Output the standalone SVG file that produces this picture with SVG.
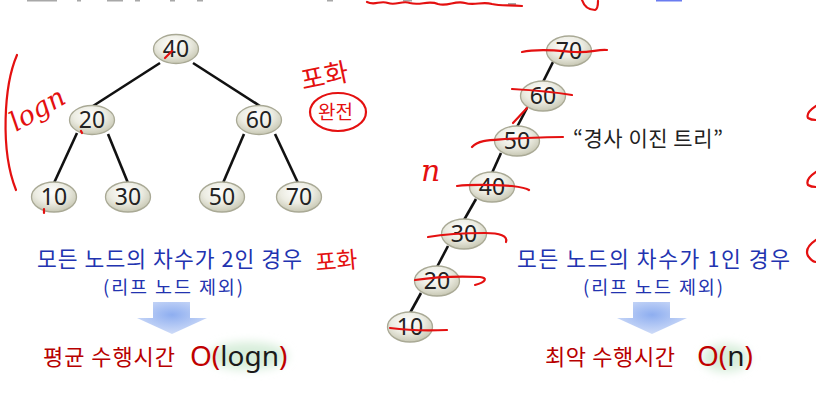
<svg xmlns="http://www.w3.org/2000/svg" width="816" height="410" viewBox="0 0 816 410">
<defs>
<radialGradient id="ng" cx="45%" cy="35%" r="65%">
<stop offset="0" stop-color="#ffffff"/>
<stop offset="0.55" stop-color="#ecece2"/>
<stop offset="1" stop-color="#c8c8b4"/>
</radialGradient>
<radialGradient id="ag" cx="50%" cy="40%" r="60%">
<stop offset="0" stop-color="#8eaef0"/>
<stop offset="1" stop-color="#cfdcf8"/>
</radialGradient>
<filter id="blur" x="-30%" y="-50%" width="160%" height="200%"><feGaussianBlur stdDeviation="5"/></filter>
<style>
.node ellipse{fill:url(#ng);stroke:#a9a995;stroke-width:1.3}
.node text{font-family:"Noto Sans","Noto Sans CJK KR",sans-serif;font-size:23px;fill:#222;text-anchor:middle}
.edge{stroke:#111;stroke-width:2.6;fill:none}
.blue{font-family:"Noto Sans CJK KR",sans-serif;fill:#2233b0}
.red{font-family:"Noto Sans CJK KR",sans-serif;fill:#b80000}
.big{font-family:"Noto Sans","Noto Sans CJK KR",sans-serif;font-size:28px}
.hw{stroke:#e41010;stroke-width:2.2;fill:none;stroke-linecap:round;stroke-linejoin:round}
.hwt{fill:#e41010}
.arrow{fill:url(#ag)}
</style>
</defs>
<rect width="816" height="410" fill="#ffffff"/>

<g id="top-fragments">
<g fill="#a8a8a8">
<rect x="27" y="0" width="30" height="1.5"/>
<rect x="77" y="0" width="4" height="1.5"/>
<rect x="107" y="0" width="16" height="1.5"/>
<rect x="135" y="0" width="5" height="1.5"/>
<rect x="170" y="0" width="5" height="1.5"/>
<rect x="197" y="0" width="6" height="1.5"/>
<rect x="327" y="0" width="6" height="1.5"/>
<rect x="403" y="0" width="9" height="1.5"/>
<rect x="508" y="3" width="8" height="2"/>
</g>
<rect x="656" y="0" width="26" height="1.5" fill="#6a7cf0"/>
<path class="hw" d="M367,2 C375,6 380,0 388,3 C396,6 402,0 410,3 C420,6 428,0 438,4 C448,7 455,0 465,3 C475,6 482,1 492,4 C500,6 508,5 522,6"/>
<path class="hw" d="M582,0 C584,6 588,10 595,10 C598,9 598,4 598,1"/>
</g>

<g id="connectors">
<line class="edge" x1="160" y1="63" x2="93" y2="106"/>
<line class="edge" x1="193" y1="63" x2="260" y2="106"/>
<line class="edge" x1="77" y1="133" x2="54" y2="183"/>
<line class="edge" x1="108" y1="134" x2="128" y2="183"/>
<line class="edge" x1="244" y1="134" x2="223" y2="183"/>
<line class="edge" x1="275" y1="134" x2="298" y2="183"/>
<line class="edge" x1="553" y1="62" x2="543" y2="82"/>
<line class="edge" x1="527" y1="108" x2="517" y2="127"/>
<line class="edge" x1="501" y1="153" x2="492" y2="173"/>
<line class="edge" x1="476" y1="199" x2="464" y2="220"/>
<line class="edge" x1="448" y1="246" x2="437" y2="267"/>
<line class="edge" x1="421" y1="293" x2="410" y2="313"/>
</g>

<g id="node-l40" class="node"><ellipse cx="176" cy="49" rx="22.5" ry="14.5"/><text x="176" y="57">40</text></g>
<g id="node-l20" class="node"><ellipse cx="92" cy="120" rx="22.5" ry="14.5"/><text x="92" y="128">20</text></g>
<g id="node-l60" class="node"><ellipse cx="259" cy="120" rx="22.5" ry="14.5"/><text x="259" y="128">60</text></g>
<g id="node-l10" class="node"><ellipse cx="54" cy="197" rx="22.5" ry="15"/><text x="54" y="205">10</text></g>
<g id="node-l30" class="node"><ellipse cx="128" cy="197" rx="22.5" ry="15"/><text x="128" y="205">30</text></g>
<g id="node-l50" class="node"><ellipse cx="222" cy="197" rx="22.5" ry="15"/><text x="222" y="205">50</text></g>
<g id="node-l70" class="node"><ellipse cx="299" cy="197" rx="22.5" ry="15"/><text x="299" y="205">70</text></g>

<g id="node-r70" class="node"><ellipse cx="569" cy="51" rx="22.5" ry="15"/><text x="569" y="59">70</text></g>
<g id="node-r60" class="node"><ellipse cx="543" cy="96" rx="22.5" ry="15"/><text x="543" y="104">60</text></g>
<g id="node-r50" class="node"><ellipse cx="517" cy="141" rx="22.5" ry="15"/><text x="517" y="149">50</text></g>
<g id="node-r40" class="node"><ellipse cx="492" cy="187" rx="22.5" ry="15"/><text x="492" y="195">40</text></g>
<g id="node-r30" class="node"><ellipse cx="464" cy="234" rx="22.5" ry="15"/><text x="464" y="242">30</text></g>
<g id="node-r20" class="node"><ellipse cx="437" cy="281" rx="22.5" ry="15"/><text x="437" y="289">20</text></g>
<g id="node-r10" class="node"><ellipse cx="410" cy="327" rx="22.5" ry="15"/><text x="410" y="335">10</text></g>

<g id="label-skew">
<text x="573" y="146" font-family="Noto Sans CJK KR, sans-serif" font-size="21" fill="#222" textLength="150" lengthAdjust="spacing">“경사 이진 트리”</text>
</g>

<g id="captions">
<text class="blue" x="37" y="267" font-size="21.5" textLength="265" lengthAdjust="spacing">모든 노드의 차수가 2인 경우</text>
<text class="blue" x="103" y="294" font-size="18.5" textLength="140" lengthAdjust="spacing">(리프 노드 제외)</text>
<text class="blue" x="517" y="267" font-size="21.5" textLength="273" lengthAdjust="spacing">모든 노드의 차수가 1인 경우</text>
<text class="blue" x="583" y="294" font-size="18.5" textLength="140" lengthAdjust="spacing">(리프 노드 제외)</text>
</g>

<g id="arrows">
<polygon class="arrow" points="153,302 190,302 190,318 207,318 172,334 137,318 153,318"/>
<polygon class="arrow" points="633,302 670,302 670,318 687,318 652,334 617,318 633,318"/>
</g>

<g id="results">
<ellipse cx="248" cy="356" rx="40" ry="14" fill="#d8eedb" filter="url(#blur)"/>
<ellipse cx="726" cy="358" rx="24" ry="14" fill="#d8eedb" filter="url(#blur)"/>
<text class="red" x="43" y="365" font-size="22" textLength="132" lengthAdjust="spacing">평균 수행시간</text>
<text class="big" x="190" y="366"><tspan fill="#c00000">O(</tspan><tspan fill="#1a1a1a">logn</tspan><tspan fill="#c00000">)</tspan></text>
<text class="red" x="545" y="365" font-size="22" textLength="130" lengthAdjust="spacing">최악 수행시간</text>
<text class="big" x="697" y="366"><tspan fill="#c00000">O(</tspan><tspan fill="#1a1a1a">n</tspan><tspan fill="#c00000">)</tspan></text>
</g>

<g id="handwriting">
<path class="hw" d="M17,55 C4,85 0,150 16,190"/>
<text class="hwt" x="16" y="132" font-family="DejaVu Serif, serif" font-style="italic" font-size="27" transform="rotate(-30 16 132)">logn</text>
<text class="hwt" x="303" y="90" font-family="Noto Sans CJK KR, sans-serif" font-size="26" transform="rotate(-12 303 90)">포화</text>
<text class="hwt" x="318" y="119" font-family="Noto Sans CJK KR, sans-serif" font-size="19">완전</text>
<ellipse class="hw" cx="338" cy="112" rx="28" ry="19"/>
<text class="hwt" x="421" y="181" font-family="DejaVu Serif, serif" font-style="italic" font-size="30">n</text>
<text class="hwt" x="316" y="271" font-family="Noto Sans CJK KR, sans-serif" font-size="23" transform="rotate(-5 316 271)">포화</text>
<path class="hw" d="M165,58 L172,51"/>
<path class="hw" d="M81,131 L82,133"/>
<path class="hw" d="M44,209 L44,213"/>
<path class="hw" d="M522,52 C540,48 560,51 575,52 C590,53 598,49 607,50"/>
<path class="hw" d="M512,89 C530,90 548,91 572,95"/>
<path class="hw" d="M513,123 L527,108"/>
<path class="hw" d="M472,147 C478,140 490,140 505,139 C525,138 545,137 563,137"/>
<path class="hw" d="M457,186 C475,184 495,185 512,186 C520,187 526,188 529,190"/>
<path class="hw" d="M428,237 C445,234 465,233 485,233 C500,233 508,236 506,242"/>
<path class="hw" d="M415,280 C435,277 460,276 480,277 C488,278 486,282 475,285"/>
<path class="hw" d="M390,328 C405,330 425,331 447,330"/>
<path class="hw" d="M816,106 C810,110 806,114 808,118 C811,120 814,120 816,120"/>
<path class="hw" d="M816,172 C810,176 806,181 808,185 C811,187 814,187 816,187"/>
<path class="hw" d="M816,240 C810,244 805,250 808,256 C811,260 814,262 816,262"/>
</g>
</svg>
